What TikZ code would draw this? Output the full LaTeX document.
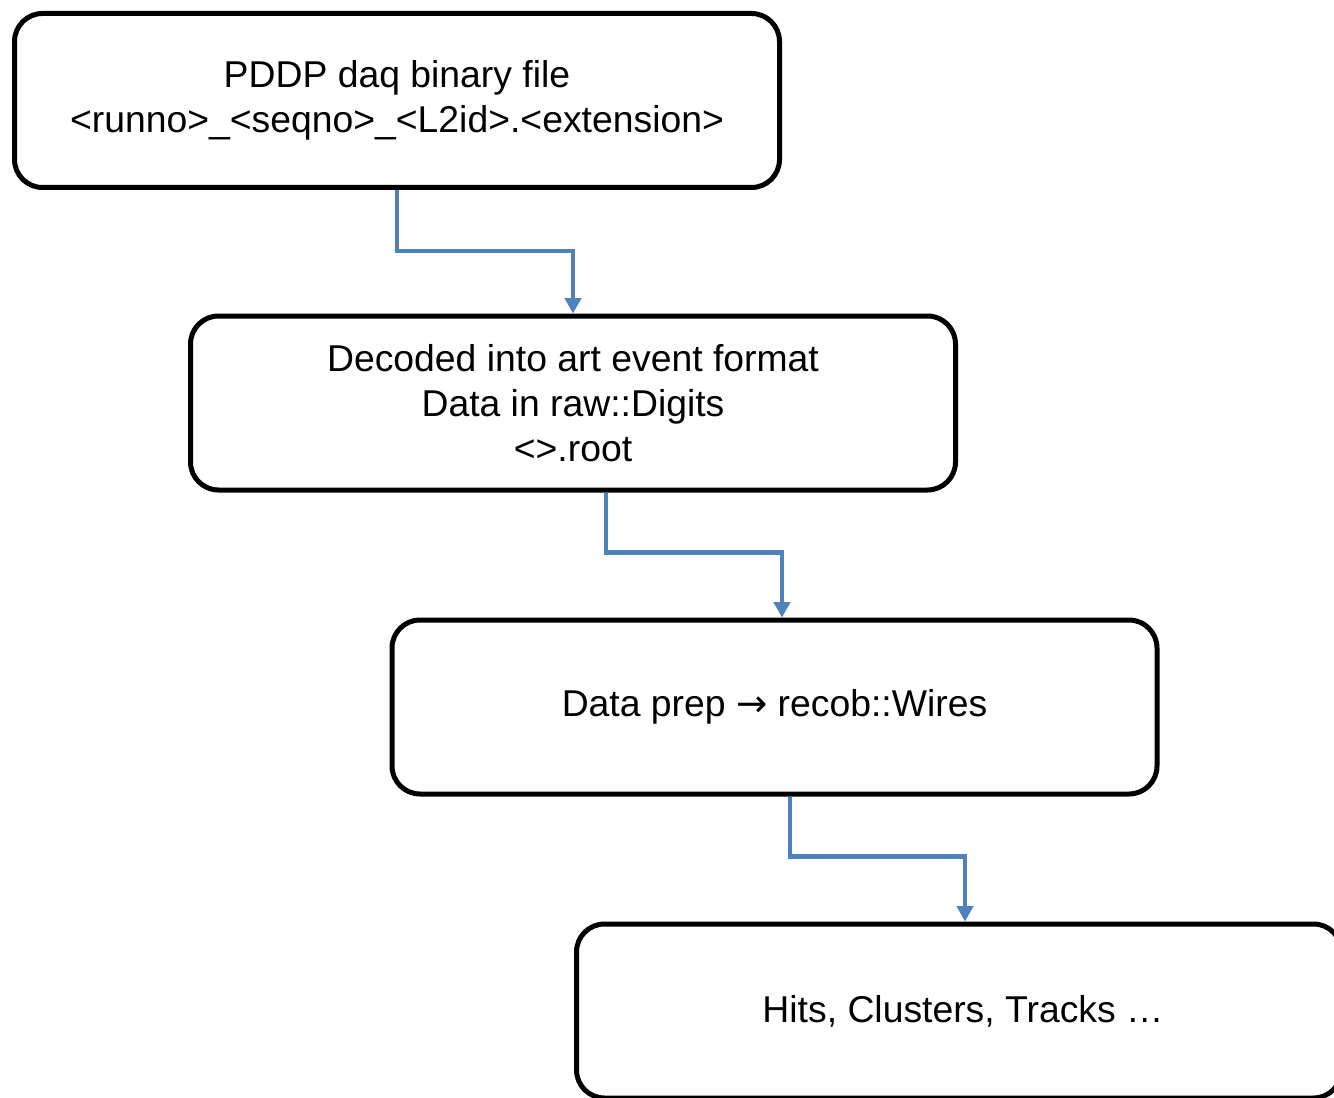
\documentclass[tikz,border=0pt]{standalone}
\usepackage{fontspec}
\setmainfont{Liberation Sans}
\newfontfamily\symfont{DejaVu Sans}
\usetikzlibrary{arrows.meta}
\definecolor{connblue}{HTML}{4F81BD}
\begin{document}
\begin{tikzpicture}[x=0.75pt,y=-0.75pt,
  box/.style={draw=black,line width=3.75pt,rounded corners=21pt,
    minimum width=573.75pt,minimum height=130.5pt,align=center,
    font=\fontsize{28}{34}\selectfont,inner sep=0pt},
  conn/.style={draw=connblue,line width=3.5pt,
    -{Triangle[length=11.5pt,width=12pt]}}]
\clip (0,0) rectangle (1334,1098);
\fill[white] (0,0) rectangle (1334,1098);
\node[box] (b1) at (397,100.5) {PDDP daq binary file\\<runno>\_<seqno>\_<L2id>.<extension>};
\node[box] (b2) at (573,403) {Decoded into art event format\\Data in raw::Digits\\<>.root};
\node[box] (b3) at (774.5,707) {Data prep {\symfont →} recob::Wires};
\node[box] (b4) at (959,1011) {\hspace*{6pt}Hits, Clusters, Tracks …};
\draw[conn] (b1.south) -- ++(0,61) -| (b2.north);
\draw[conn] ([xshift=24.75pt]b2.south) -- ++(0,60) -| ([xshift=5.6pt]b3.north);
\draw[conn] ([xshift=11.6pt]b3.south) -- ++(0,60) -| ([xshift=4.5pt]b4.north);
\end{tikzpicture}
\end{document}
